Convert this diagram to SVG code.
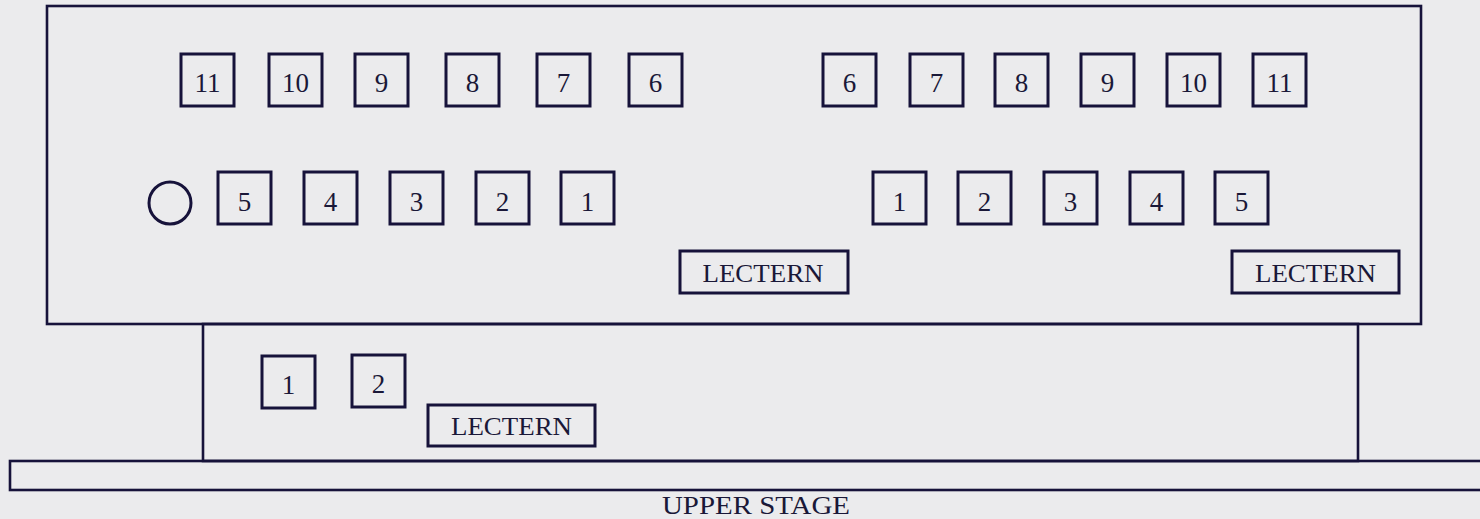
<svg xmlns="http://www.w3.org/2000/svg" width="1480" height="519" viewBox="0 0 1480 519">
<style>
.ln{fill:none;stroke:#16123a;stroke-width:2.6}
.bx{fill:none;stroke:#16123a;stroke-width:3}
.t{font-family:"Liberation Serif","Times New Roman",serif;font-size:26px;fill:#1a1838;text-anchor:middle}
.n{font-size:27px}
</style>
<rect width="1480" height="519" fill="#ebebed"/>
<g id="stage-areas">
<rect id="main-stage" class="ln" x="47" y="6" width="1374" height="318"/>
<rect id="forestage" class="ln" x="203" y="324" width="1155" height="137"/>
<rect id="upper-stage" class="ln" x="10" y="461" width="1480" height="29"/>
</g>
<g id="top-left-row">
<g id="tl11"><rect class="bx" x="181" y="54" width="53" height="52"/><text class="t n" x="207.5" y="92">11</text></g>
<g id="tl10"><rect class="bx" x="269" y="54" width="53" height="52"/><text class="t n" x="295.5" y="92">10</text></g>
<g id="tl9"><rect class="bx" x="355" y="54" width="53" height="52"/><text class="t n" x="381.5" y="92">9</text></g>
<g id="tl8"><rect class="bx" x="446" y="54" width="53" height="52"/><text class="t n" x="472.5" y="92">8</text></g>
<g id="tl7"><rect class="bx" x="537" y="54" width="53" height="52"/><text class="t n" x="563.5" y="92">7</text></g>
<g id="tl6"><rect class="bx" x="629" y="54" width="53" height="52"/><text class="t n" x="655.5" y="92">6</text></g>
</g>
<g id="top-right-row">
<g id="tr6"><rect class="bx" x="823" y="54" width="53" height="52"/><text class="t n" x="849.5" y="92">6</text></g>
<g id="tr7"><rect class="bx" x="910" y="54" width="53" height="52"/><text class="t n" x="936.5" y="92">7</text></g>
<g id="tr8"><rect class="bx" x="995" y="54" width="53" height="52"/><text class="t n" x="1021.5" y="92">8</text></g>
<g id="tr9"><rect class="bx" x="1081" y="54" width="53" height="52"/><text class="t n" x="1107.5" y="92">9</text></g>
<g id="tr10"><rect class="bx" x="1167" y="54" width="53" height="52"/><text class="t n" x="1193.5" y="92">10</text></g>
<g id="tr11"><rect class="bx" x="1253" y="54" width="53" height="52"/><text class="t n" x="1279.5" y="92">11</text></g>
</g>
<g id="circle"><circle class="bx" cx="170" cy="203" r="21"/></g>
<g id="mid-left-row">
<g id="ml5"><rect class="bx" x="218" y="172" width="53" height="52"/><text class="t n" x="244.5" y="211">5</text></g>
<g id="ml4"><rect class="bx" x="304" y="172" width="53" height="52"/><text class="t n" x="330.5" y="211">4</text></g>
<g id="ml3"><rect class="bx" x="390" y="172" width="53" height="52"/><text class="t n" x="416.5" y="211">3</text></g>
<g id="ml2"><rect class="bx" x="476" y="172" width="53" height="52"/><text class="t n" x="502.5" y="211">2</text></g>
<g id="ml1"><rect class="bx" x="561" y="172" width="53" height="52"/><text class="t n" x="587.5" y="211">1</text></g>
</g>
<g id="mid-right-row">
<g id="mr1"><rect class="bx" x="873" y="172" width="53" height="52"/><text class="t n" x="899.5" y="211">1</text></g>
<g id="mr2"><rect class="bx" x="958" y="172" width="53" height="52"/><text class="t n" x="984.5" y="211">2</text></g>
<g id="mr3"><rect class="bx" x="1044" y="172" width="53" height="52"/><text class="t n" x="1070.5" y="211">3</text></g>
<g id="mr4"><rect class="bx" x="1130" y="172" width="53" height="52"/><text class="t n" x="1156.5" y="211">4</text></g>
<g id="mr5"><rect class="bx" x="1215" y="172" width="53" height="52"/><text class="t n" x="1241.5" y="211">5</text></g>
</g>
<g id="lectern-1"><rect class="bx" x="680" y="251" width="168" height="42"/><text class="t" x="763" y="282" textLength="121" lengthAdjust="spacingAndGlyphs">LECTERN</text></g>
<g id="lectern-2"><rect class="bx" x="1232" y="251" width="167" height="42"/><text class="t" x="1315.5" y="282" textLength="121" lengthAdjust="spacingAndGlyphs">LECTERN</text></g>
<g id="fore-1"><rect class="bx" x="262" y="356" width="53" height="52"/><text class="t n" x="288.5" y="394">1</text></g>
<g id="fore-2"><rect class="bx" x="352" y="355" width="53" height="52"/><text class="t n" x="378.5" y="393">2</text></g>
<g id="lectern-3"><rect class="bx" x="428" y="405" width="167" height="41"/><text class="t" x="511.5" y="435" textLength="121" lengthAdjust="spacingAndGlyphs">LECTERN</text></g>
<g id="label"><text class="t" x="756" y="514" font-size="25" textLength="188" lengthAdjust="spacingAndGlyphs">UPPER STAGE</text></g>
<g id="connectors"></g>
</svg>
